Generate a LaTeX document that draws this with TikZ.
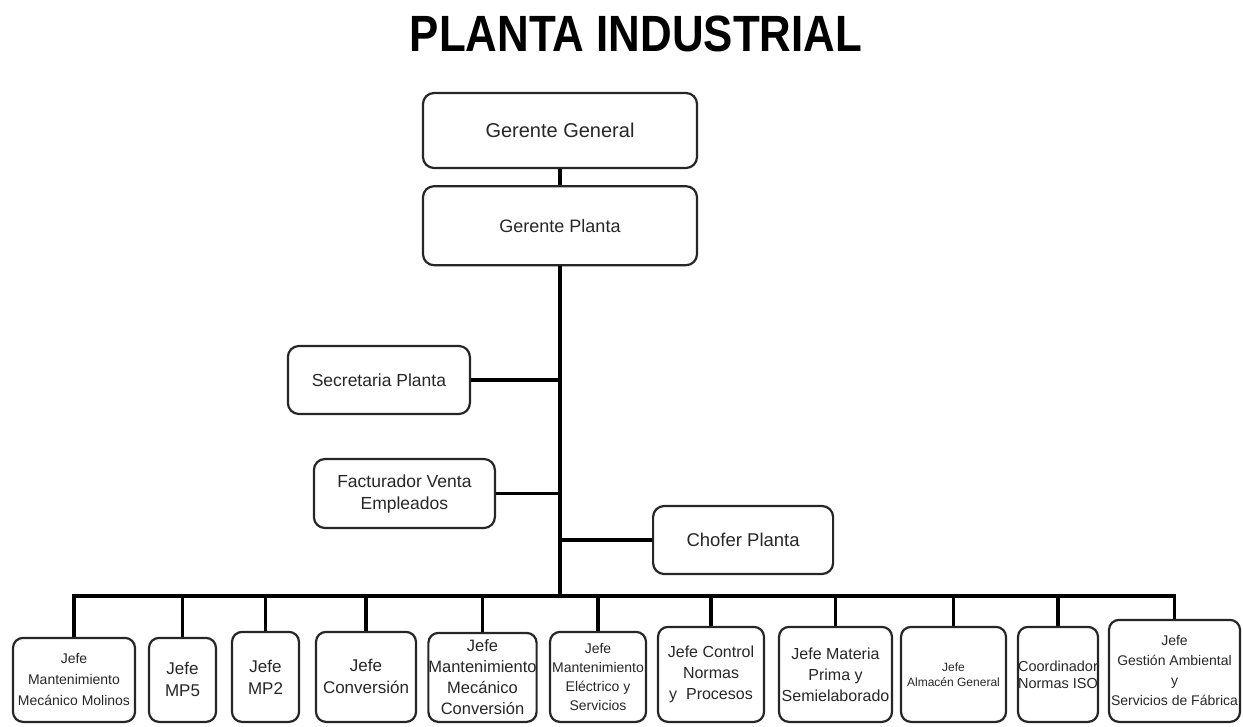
\documentclass[tikz,border=0pt]{standalone}
\usepackage{graphicx}
\usepackage{fontspec}
\setmainfont{Liberation Sans}
\usetikzlibrary{positioning}

\begin{document}
\begin{tikzpicture}[x=1pt, y=-1pt, auto,
	box/.style={draw=black!85, line width=2.2pt, rounded corners=11pt, align=center, inner sep=0pt, text=black!85},
	jefe/.style n args={4}{box, rounded corners=10pt, minimum width=#1pt, minimum height=#2pt, anchor=south, font=\fontsize{#3}{#4}\selectfont},
	conn/.style={line width=3.8pt, draw=black}]
		\useasboundingbox (0,0) rectangle (1243,727);
		\node[anchor=base, inner sep=0pt, font=\fontsize{51}{51}\selectfont\bfseries] (titulo) at (636,52) {\scalebox{0.86}[1]{PLANTA INDUSTRIAL}};

		\node[box, minimum width=274pt, minimum height=75pt, font=\fontsize{20}{24}\selectfont] (gGen) at (560,130.5) {Gerente General};
		\node[box, minimum width=274pt, minimum height=79pt, font=\fontsize{18}{22}\selectfont] (gPla) [below=16pt of gGen] {Gerente Planta};

		\coordinate (jSec) at (560,380);
		\coordinate (jFac) at (560,493.5);
		\coordinate (jCho) at (560,540);
		\coordinate (bus) at (560,596);

		\node[box, minimum width=182pt, minimum height=68pt, font=\fontsize{17.5}{21}\selectfont] (sec) [left=89pt of jSec] {Secretaria Planta};
		\node[box, minimum width=181pt, minimum height=69pt, font=\fontsize{17.5}{22}\selectfont] (fac) [left=64pt of jFac] {Facturador Venta\\Empleados};
		\node[box, minimum width=180pt, minimum height=68pt, font=\fontsize{18.5}{22}\selectfont] (cho) [right=92pt of jCho] {Chofer Planta};

		\node[jefe={122}{84}{14}{21}] (j1) at (74,723) {Jefe\\Mantenimiento\\Mecánico Molinos};
		\node[jefe={67}{84}{17}{22}] (j2) at (182.5,723) {Jefe\\MP5};
		\node[jefe={67}{90}{17}{22}] (j3) at (265.5,723) {Jefe\\MP2};
		\node[jefe={100}{90}{17}{22}] (j4) at (366,723) {Jefe\\Conversión};
		\node[jefe={107}{89}{16.5}{21}] (j5) at (482.5,723) {Jefe\\Mantenimiento\\Mecánico\\Conversión};
		\node[jefe={96}{90}{14}{19}] (j6) at (598,723) {Jefe\\Mantenimiento\\Eléctrico y\\Servicios};
		\node[jefe={106}{95}{16}{21}] (j7) at (711,723) {Jefe Control\\Normas\\y\ \ Procesos};
		\node[jefe={113}{95}{16}{21}] (j8) at (835.5,723) {Jefe Materia\\Prima y\\Semielaborado};
		\node[jefe={105}{95}{12}{15}] (j9) at (953.5,723) {Jefe\\Almacén General};
		\node[jefe={80}{95}{14.5}{17}] (j10) at (1058,723) {Coordinador\\Normas ISO};
		\node[jefe={131}{102}{14}{20}] (j11) at (1174.5,723) {Jefe\\Gestión Ambiental\\y\\Servicios de Fábrica};

		\draw[conn] (j1) -- (j1 |- bus) -- (j11 |- bus) -- (j11);

		\path[conn]
		(gGen) edge (gPla)
		(gPla) edge (gPla |- bus)
		(sec) edge (jSec)
		(fac) edge (jFac)
		(cho) edge (jCho)
		(j2) edge (j2 |- bus)
		(j3) edge (j3 |- bus)
		(j4) edge (j4 |- bus)
		(j5) edge (j5 |- bus)
		(j6) edge (j6 |- bus)
		(j7) edge (j7 |- bus)
		(j8) edge (j8 |- bus)
		(j9) edge (j9 |- bus)
		(j10) edge (j10 |- bus)
		;
	\end{tikzpicture}
\end{document}
